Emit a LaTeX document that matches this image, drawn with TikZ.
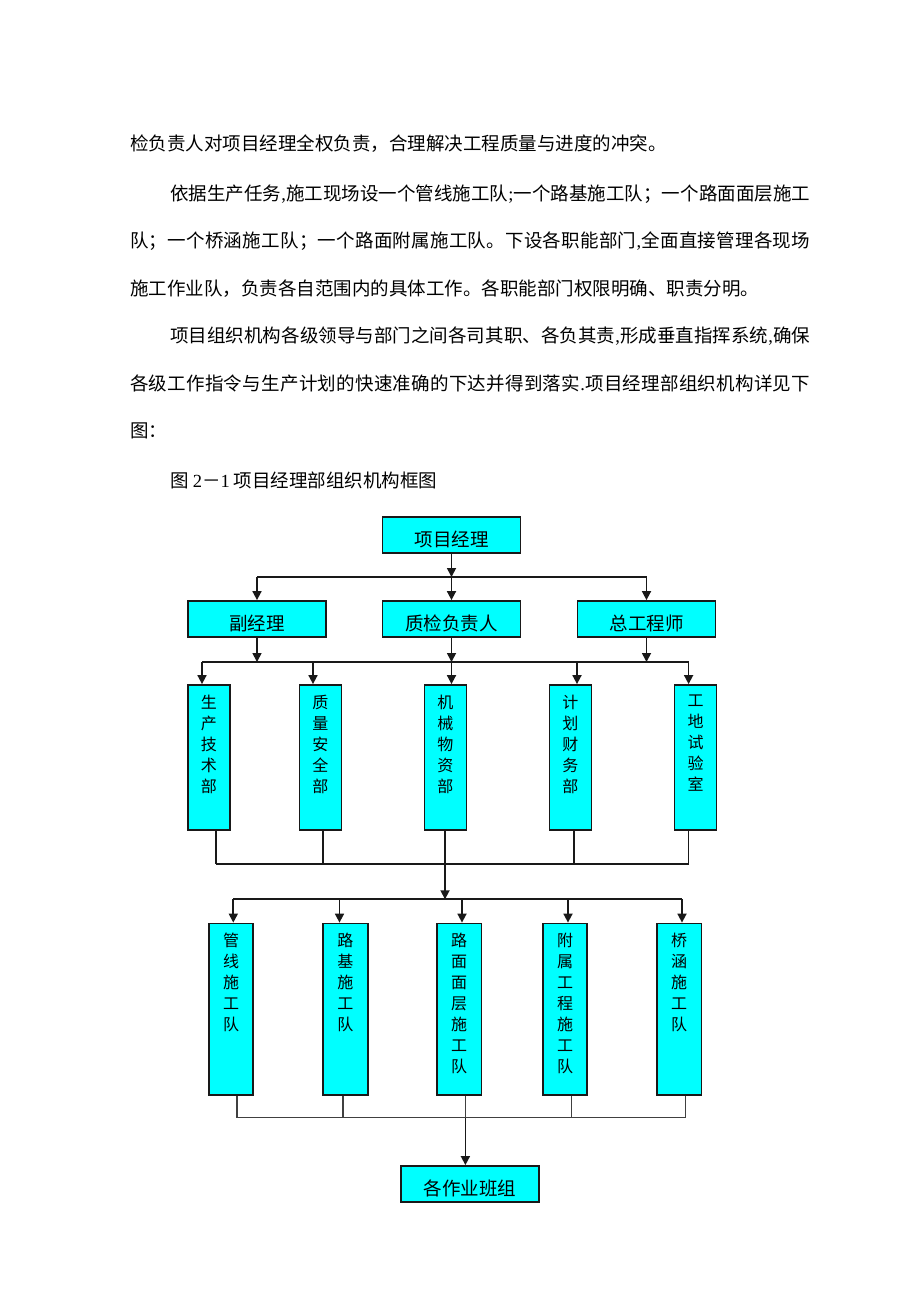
\documentclass[tikz,border=0pt]{standalone}
\usepackage{fontspec}
\setmainfont{Liberation Serif}
\newfontfamily\cjk{Noto Sans CJK SC}
\newfontfamily\lat{Liberation Serif}
\usetikzlibrary{arrows.meta}
\definecolor{cy}{HTML}{00FFFF}
\def\lcm{{\lat ,}}
\def\lsc{{\lat ;}}
\def\ldt{{\lat .}}
\def\jline#1{\jfirst#1\relax}
\def\jfirst#1{#1\jrest}
\def\jrest#1{\ifx#1\relax\else\hfil #1\expandafter\jrest\fi}
\tikzset{
  para/.style={anchor=base west, inner sep=0pt, font=\cjk\fontsize{18.5}{18.5}\selectfont},
  boxbase/.style={draw=black!90, line width=1.8pt, fill=cy, inner sep=0pt},
  hbox/.style={boxbase, minimum width=138pt, minimum height=36pt},
  vbox/.style={boxbase, minimum width=42pt, minimum height=145pt},
  wbox/.style={boxbase, minimum width=44.5pt, minimum height=171.5pt},
  htext/.style={inner sep=0pt, font=\cjk\fontsize{18.5}{18.5}\selectfont},
  vtext/.style={inner sep=0pt, anchor=north, align=center, font=\cjk\fontsize{16}{21}\selectfont},
  conn/.style={line width=1.7pt, draw=black!90},
  thinconn/.style={line width=1.4pt, draw=black!75},
  arr/.style={conn, -{Triangle[length=9pt,width=9pt]}}
}
\begin{document}
\begin{tikzpicture}[x=1pt,y=-1pt]
\useasboundingbox (0,0) rectangle (920,1302);
\fill[white] (0,0) rectangle (920,1302);

% paragraph text
\node[para] (t1) at (130,150) {检负责人对项目经理全权负责，合理解决工程质量与进度的冲突。};
\node[para] (t2) at (170,200) {\hbox to 640pt{\jline{依据生产任务\lcm 施工现场设一个管线施工队\lsc 一个路基施工队；一个路面面层施工}}};
\node[para] (t3) at (130,247) {\hbox to 680pt{\jline{队；一个桥涵施工队；一个路面附属施工队。下设各职能部门\lcm 全面直接管理各现场}}};
\node[para] (t4) at (130,295) {施工作业队，负责各自范围内的具体工作。各职能部门权限明确、职责分明。};
\node[para] (t5) at (170,342) {\hbox to 640pt{\jline{项目组织机构各级领导与部门之间各司其职、各负其责\lcm 形成垂直指挥系统\lcm 确保}}};
\node[para] (t6) at (130,390) {\hbox to 680pt{\jline{各级工作指令与生产计划的快速准确的下达并得到落实\ldt 项目经理部组织机构详见下}}};
\node[para] (t7) at (130,437) {图：};
\node[para] (t8) at (170,487) {图 {\lat 2}－{\lat 1} 项目经理部组织机构框图};

% level 1
\node[hbox] (pm) at (451.5,535) {};
\node[htext] (pmt) at ([yshift=-4pt]pm.center) {项目经理};

% level 2
\node[hbox] (fj) at (257,619) {};
\node[htext] (fjt) at ([yshift=-4pt]fj.center) {副经理};
\node[hbox] (zj) at (451.5,619) {};
\node[htext] (zjt) at ([yshift=-4pt]zj.center) {质检负责人};
\node[hbox] (zg) at (646.5,619) {};
\node[htext] (zgt) at ([yshift=-4pt]zg.center) {总工程师};

\coordinate (j11) at (257,577);
\coordinate (j10) at (451.5,577);
\coordinate (j13) at (646.5,577);
\draw[arr] (pm.south) -- (j10);
\draw[conn] (j11) -- (j13);
\draw[arr] (j11) -- (fj.north);
\draw[arr] (j10) -- (zj.north);
\draw[arr] (j13) -- (zg.north);

% level 3
\node[vbox] (b1) at (208.8,757.5) {};
\node[vbox] (b2) at (320.4,757.5) {};
\node[vbox] (b3) at (445.4,757.5) {};
\node[vbox] (b4) at (570.4,757.5) {};
\node[vbox] (b5) at (695.5,757.5) {};
\node[vtext] (b1t) at ([yshift=-10.5pt]b1.north) {生\\产\\技\\术\\部};
\node[vtext] (b2t) at ([yshift=-10.5pt]b2.north) {质\\量\\安\\全\\部};
\node[vtext] (b3t) at ([yshift=-10.5pt]b3.north) {机\\械\\物\\资\\部};
\node[vtext] (b4t) at ([yshift=-10.5pt]b4.north) {计\\划\\财\\务\\部};
\node[vtext] (b5t) at ([yshift=-10.5pt]b5.north) {工\\地\\试\\验\\室};

\coordinate (j21) at (202,662);
\coordinate (j22) at (313,662);
\coordinate (j23) at (451.5,662);
\coordinate (j24) at (577,662);
\coordinate (j25) at (688.6,662);
\draw[arr] (fj.south) -- (fj.south |- j21);
\draw[arr] (zj.south) -- (j23);
\draw[arr] (zg.south) -- (zg.south |- j21);
\draw[conn] (j21) -- (j25);
\draw[arr] (j21) -- (j21 |- b1.north);
\draw[arr] (j22) -- (j22 |- b2.north);
\draw[arr] (j23) -- (j23 |- b3.north);
\draw[arr] (j24) -- (j24 |- b4.north);
\draw[arr] (j25) -- (j25 |- b5.north);

\coordinate (j31) at (215.7,864.3);
\coordinate (j32) at (322.9,864.3);
\coordinate (j33) at (445,864.3);
\coordinate (j34) at (573.9,864.3);
\coordinate (j35) at (688.6,864.3);
\draw[conn] (j31 |- b1.south) -- (j31);
\draw[conn] (j32 |- b2.south) -- (j32);
\draw[conn] (j33 |- b3.south) -- (j33);
\draw[conn] (j34 |- b4.south) -- (j34);
\draw[conn] (j35 |- b5.south) -- (j35);
\draw[conn] (j31) -- (j35);

% level 4
\node[wbox] (c1) at (231,1009.25) {};
\node[wbox] (c2) at (345.4,1009.25) {};
\node[wbox] (c3) at (459.2,1009.25) {};
\node[wbox] (c4) at (565.1,1009.25) {};
\node[wbox] (c5) at (679.2,1009.25) {};
\node[vtext] (c1t) at ([yshift=-10.5pt]c1.north) {管\\线\\施\\工\\队};
\node[vtext] (c2t) at ([yshift=-10.5pt]c2.north) {路\\基\\施\\工\\队};
\node[vtext] (c3t) at ([yshift=-10.5pt]c3.north) {路\\面\\面\\层\\施\\工\\队};
\node[vtext] (c4t) at ([yshift=-10.5pt]c4.north) {附\\属\\工\\程\\施\\工\\队};
\node[vtext] (c5t) at ([yshift=-10.5pt]c5.north) {桥\\涵\\施\\工\\队};

\coordinate (j40) at (445,899.3);
\coordinate (j41) at (233.3,899.3);
\coordinate (j42) at (339.5,899.3);
\coordinate (j43) at (462,899.3);
\coordinate (j44) at (568,899.3);
\coordinate (j45) at (682,899.3);
\draw[arr] (j33) -- (j40);
\draw[conn] (j41) -- (j45);
\draw[arr] (j41) -- (j41 |- c1.north);
\draw[arr] (j42) -- (j42 |- c2.north);
\draw[arr] (j43) -- (j43 |- c3.north);
\draw[arr] (j44) -- (j44 |- c4.north);
\draw[arr] (j45) -- (j45 |- c5.north);

% level 5
\node[hbox] (fin) at (470,1184) {};
\node[htext] (fint) at ([yshift=-4pt]fin.center) {各作业班组};

\coordinate (j51) at (237,1117.7);
\coordinate (j52) at (343,1117.7);
\coordinate (j53) at (465.4,1117.7);
\coordinate (j54) at (571.3,1117.7);
\coordinate (j55) at (685.5,1117.7);
\draw[thinconn] (j51 |- c1.south) -- (j51);
\draw[thinconn] (j52 |- c2.south) -- (j52);
\draw[thinconn] (j53 |- c3.south) -- (j53);
\draw[thinconn] (j54 |- c4.south) -- (j54);
\draw[thinconn] (j55 |- c5.south) -- (j55);
\draw[thinconn] (j51) -- (j55);
\draw[arr] (j53) -- (j53 |- fin.north);
\end{tikzpicture}
\end{document}
